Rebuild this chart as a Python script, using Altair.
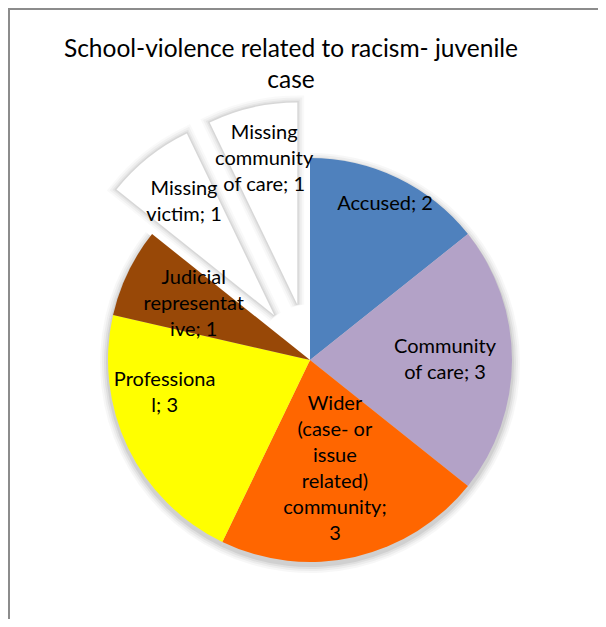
import math
import altair as alt
import pandas as pd

# ---------------- data ----------------
categories = [
    "Accused",
    "Community of care",
    "Wider (case- or issue related) community",
    "Professional",
    "Judicial representative",
    "Missing victim",
    "Missing community of care",
]
values = [2, 3, 3, 3, 1, 1, 1]
labels = [
    "Accused; 2",
    "Community\nof care; 3",
    "Wider\n(case- or\nissue\nrelated)\ncommunity;\n3",
    "Professiona\nl; 3",
    "Judicial\nrepresentat\nive; 1",
    "Missing\nvictim; 1",
    "Missing\ncommunity\nof care; 1",
]
colors = ["#4F81BD", "#B3A2C7", "#FF6600", "#FFFF00", "#984807", "#FFFFFF", "#FFFFFF"]
exploded = [0, 0, 0, 0, 0, 1, 1]
title_text = "School-violence related to racism- juvenile\ncase"

# ---------------- layout / style ----------------
W, H = 590, 611
CX, CY = 302, 352
R = 202
EXPLODE = 57
LABEL_R = [173, 135, 112, 149, 129, 145, 149]
LABEL_DA = [0, 0, 0, 13, 0, 0, 0]
FONT = "Lato"
LABEL_SIZE = 20
LINE_H = 26
TOTAL = sum(values)

df = pd.DataFrame({
    "category": categories,
    "value": values,
    "label": labels,
    "color": colors,
    "exploded": exploded,
    "order": list(range(len(values))),
    "label_r": LABEL_R,
    "label_da": LABEL_DA,
})

theta_scale = alt.Scale(domain=[0, TOTAL], range=[0, 2 * math.pi])

base = (
    alt.Chart(df)
    .transform_window(cum="sum(value)", sort=[alt.SortField("order")], frame=[None, 0])
    .transform_joinaggregate(total="sum(value)")
    .transform_calculate(
        t0="datum.cum - datum.value",
        mid="(datum.cum - datum.value / 2) / datum.total * 2 * PI",
        nlines="split(datum.label, '\\n').length",
    )
    .transform_calculate(
        cx=f"{CX} + datum.exploded * {EXPLODE} * sin(datum.mid)",
        cy=f"{CY} - datum.exploded * {EXPLODE} * cos(datum.mid)",
    )
    .transform_calculate(
        lx="datum.cx + datum.label_r * sin(datum.mid + datum.label_da * PI / 180)",
        ly=f"datum.cy - datum.label_r * cos(datum.mid + datum.label_da * PI / 180)"
           f" - (datum.nlines - 1) * {LINE_H} / 2",
        sy="datum.cy + 3",
    )
)

arc_enc = dict(
    theta=alt.Theta("t0:Q", scale=theta_scale),
    theta2=alt.Theta2("cum:Q"),
    x=alt.X("cx:Q", scale=None, axis=None),
    y=alt.Y("cy:Q", scale=None, axis=None),
)
shadow_enc = dict(arc_enc)
shadow_enc["y"] = alt.Y("sy:Q", scale=None, axis=None)

solid = base.transform_filter("datum.exploded == 0")
loose = base.transform_filter("datum.exploded == 1")

layers = []
# soft shadow of the main pie
for dr, op in [(8, 0.03), (6, 0.04), (4, 0.05), (2, 0.07)]:
    layers.append(solid.mark_arc(radius=R + dr, color="#000000", opacity=op).encode(**shadow_enc))
# main slices
layers.append(solid.mark_arc(radius=R).encode(color=alt.Color("color:N", scale=None), **arc_enc))
# soft shadow of exploded slices
for sw, op in [(14, 0.025), (10, 0.035), (6, 0.045), (3, 0.06)]:
    layers.append(
        loose.mark_arc(radius=R, fillOpacity=0, stroke="#000000", strokeWidth=sw,
                       strokeOpacity=op, strokeJoin="miter").encode(**arc_enc)
    )
layers.append(loose.mark_arc(radius=R).encode(color=alt.Color("color:N", scale=None), **arc_enc))
# labels
layers.append(
    base.mark_text(font=FONT, fontSize=LABEL_SIZE, color="#000000", lineBreak="\n",
                   lineHeight=LINE_H, align="center", baseline="middle").encode(
        x=alt.X("lx:Q", scale=None), y=alt.Y("ly:Q", scale=None), text="label:N"
    )
)
# frame and title
frame_src = alt.Chart(pd.DataFrame({"k": [0]}))
layers.append(frame_src.mark_rule(color="#8C8C8C", strokeWidth=2).encode(
    x=alt.value(1), y=alt.value(0), y2=alt.value(H)))
layers.append(frame_src.mark_rule(color="#8C8C8C", strokeWidth=2).encode(
    x=alt.value(0), x2=alt.value(W), y=alt.value(1)))
layers.append(frame_src.mark_text(font=FONT, fontSize=24.5, color="#000000", lineBreak="\n",
                                  lineHeight=31, align="center", baseline="alphabetic").encode(
    x=alt.value(283), y=alt.value(49), text=alt.value(title_text)))

chart = alt.layer(*layers).properties(
    width=W, height=H, padding=0, autosize="none",
).configure_view(stroke=None)

chart.save("out.html", embed_options={"renderer": "svg", "actions": False})
